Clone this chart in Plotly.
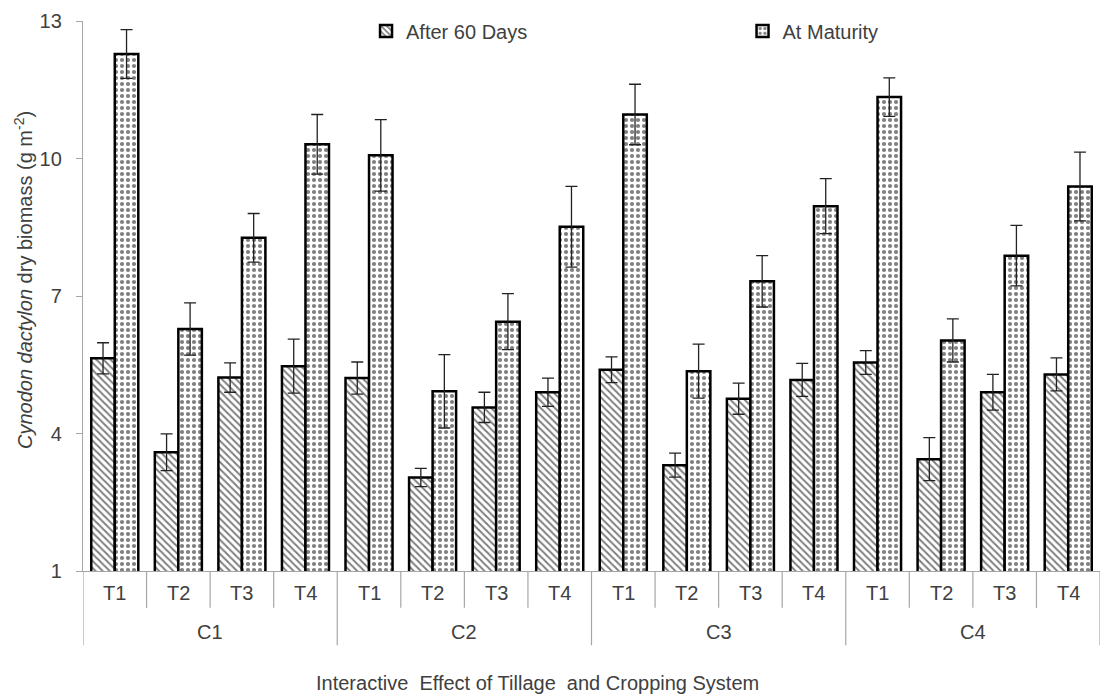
import plotly.graph_objects as go

# Tillage treatments within each cropping system
tillage = ["T1", "T2", "T3", "T4"]
cropping = ["C1", "C2", "C3", "C4"]

# Cynodon dactylon dry biomass (g m-2), 16 tillage x cropping combinations
after_60 = [5.64, 3.59, 5.22, 5.47, 5.21, 3.04, 4.57, 4.90,
            5.39, 3.31, 4.76, 5.17, 5.55, 3.44, 4.90, 5.29]
after_60_err = [0.34, 0.40, 0.32, 0.59, 0.35, 0.20, 0.33, 0.31,
                0.28, 0.26, 0.34, 0.36, 0.26, 0.47, 0.39, 0.36]
maturity = [12.28, 6.28, 8.27, 10.31, 10.07, 4.92, 6.44, 8.51,
            10.96, 5.36, 7.32, 8.96, 11.34, 6.03, 7.88, 9.39]
maturity_err = [0.53, 0.57, 0.53, 0.65, 0.78, 0.80, 0.61, 0.88,
                0.66, 0.59, 0.56, 0.60, 0.42, 0.47, 0.66, 0.75]

y_ticks = [1, 4, 7, 10, 13]

FONT = "Liberation Sans, Arial, sans-serif"
FS = 20
TXT = "#404040"
AXIS = "#a6a6a6"

n = len(cropping) * len(tillage)
xpos = list(range(n))

fig = go.Figure()
fig.add_trace(go.Bar(
    x=xpos, y=after_60, name="After 60 Days", legend="legend",
    marker=dict(color="white",
                line=dict(color="black", width=2.5),
                pattern=dict(shape="\\", size=5, solidity=0.4,
                             fgcolor="black", bgcolor="white")),
    error_y=dict(type="data", array=after_60_err, color="#222222",
                 thickness=1.3, width=6),
))
fig.add_trace(go.Bar(
    x=xpos, y=maturity, name="At Maturity", legend="legend2",
    marker=dict(color="white",
                line=dict(color="black", width=2.5),
                pattern=dict(shape=".", size=6, solidity=0.38,
                             fgcolor="black", bgcolor="white")),
    error_y=dict(type="data", array=maturity_err, color="#222222",
                 thickness=1.3, width=6),
))

# category separators below the axis: short between tillage, long between systems
shapes = []
for i in range(n + 1):
    long_line = i % len(tillage) == 0
    shapes.append(dict(type="line", xref="x", yref="paper",
                       x0=i - 0.5, x1=i - 0.5, y0=0,
                       y1=-0.135 if long_line else -0.067,
                       line=dict(color=AXIS, width=1.2)))

annotations = []
for i in range(n):
    annotations.append(dict(x=i, y=-0.04, xref="x", yref="paper",
                            text=tillage[i % len(tillage)], showarrow=False,
                            xanchor="center", yanchor="middle",
                            font=dict(family=FONT, size=FS, color=TXT)))
for g, c in enumerate(cropping):
    annotations.append(dict(x=g * len(tillage) + (len(tillage) - 1) / 2,
                            y=-0.111, xref="x", yref="paper",
                            text=c, showarrow=False,
                            xanchor="center", yanchor="middle",
                            font=dict(family=FONT, size=FS, color=TXT)))
annotations.append(dict(x=0.447, y=-0.203, xref="paper", yref="paper",
                        text="Interactive  Effect of Tillage  and Cropping System",
                        showarrow=False, xanchor="center", yanchor="middle",
                        font=dict(family=FONT, size=FS, color=TXT)))
annotations.append(dict(x=-0.059, y=0.529, xref="paper", yref="paper",
                        text="<i>Cynodon dactylon</i> dry biomass (g m<sup>-2</sup>)",
                        textangle=-90, showarrow=False,
                        xanchor="center", yanchor="middle",
                        font=dict(family=FONT, size=FS, color=TXT)))

legend_common = dict(orientation="h", y=0.982, xanchor="left", yanchor="middle",
                     bgcolor="rgba(0,0,0,0)",
                     font=dict(family=FONT, size=FS, color=TXT))

fig.update_layout(
    width=1100, height=696,
    margin=dict(l=83, r=0, t=21, b=125),
    paper_bgcolor="white", plot_bgcolor="white",
    barmode="group", bargap=0.26, bargroupgap=0,
    font=dict(family=FONT, size=FS, color=TXT),
    showlegend=True,
    legend=dict(x=0.2783, **legend_common),
    legend2=dict(x=0.6485, **legend_common),
    xaxis=dict(range=[-0.5, n - 0.5], showticklabels=False, ticks="",
               showline=True, linecolor=AXIS, linewidth=1.3,
               showgrid=False, zeroline=False, fixedrange=True),
    yaxis=dict(range=[1, 13], tickvals=y_ticks, ticks="outside", ticklen=6,
               tickcolor=AXIS, showline=True, linecolor=AXIS, linewidth=1.3,
               showgrid=False, zeroline=False, ticklabelstandoff=10,
               tickfont=dict(family=FONT, size=FS, color=TXT)),
    shapes=shapes,
    annotations=annotations,
)

fig.write_html("out.html")
